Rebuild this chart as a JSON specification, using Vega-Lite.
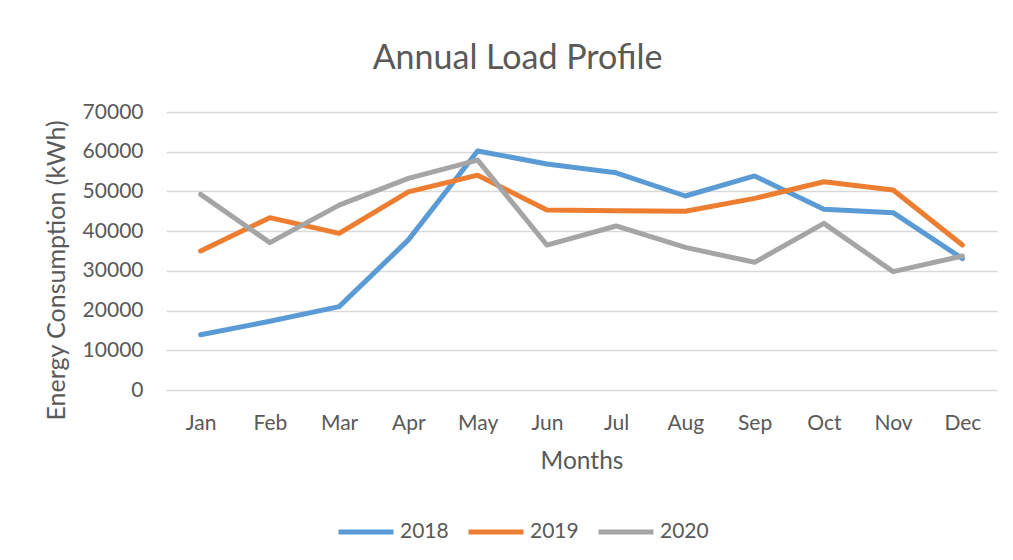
{
  "$schema": "https://vega.github.io/schema/vega-lite/v6.json",
  "width": 831,
  "height": 278,
  "autosize": "none",
  "padding": {"left": 166, "top": 112, "right": 16, "bottom": 170},
  "background": "white",
  "title": {
    "text": "Annual Load Profile",
    "font": "Lato",
    "fontSize": 34,
    "fontWeight": "normal",
    "color": "#595959",
    "anchor": "middle",
    "dx": -64,
    "offset": 25
  },
  "data": {
    "values": [
      {"month": "Jan", "year": "2018", "kwh": 13900},
      {"month": "Feb", "year": "2018", "kwh": 17300},
      {"month": "Mar", "year": "2018", "kwh": 21000},
      {"month": "Apr", "year": "2018", "kwh": 37800},
      {"month": "May", "year": "2018", "kwh": 60200},
      {"month": "Jun", "year": "2018", "kwh": 56900},
      {"month": "Jul", "year": "2018", "kwh": 54700},
      {"month": "Aug", "year": "2018", "kwh": 48850},
      {"month": "Sep", "year": "2018", "kwh": 53900},
      {"month": "Oct", "year": "2018", "kwh": 45500},
      {"month": "Nov", "year": "2018", "kwh": 44650},
      {"month": "Dec", "year": "2018", "kwh": 33100},
      {"month": "Jan", "year": "2019", "kwh": 35000},
      {"month": "Feb", "year": "2019", "kwh": 43400},
      {"month": "Mar", "year": "2019", "kwh": 39450},
      {"month": "Apr", "year": "2019", "kwh": 49900},
      {"month": "May", "year": "2019", "kwh": 54100},
      {"month": "Jun", "year": "2019", "kwh": 45300},
      {"month": "Jul", "year": "2019", "kwh": 45150},
      {"month": "Aug", "year": "2019", "kwh": 45000},
      {"month": "Sep", "year": "2019", "kwh": 48250},
      {"month": "Oct", "year": "2019", "kwh": 52450},
      {"month": "Nov", "year": "2019", "kwh": 50350},
      {"month": "Dec", "year": "2019", "kwh": 36500},
      {"month": "Jan", "year": "2020", "kwh": 49250},
      {"month": "Feb", "year": "2020", "kwh": 37100},
      {"month": "Mar", "year": "2020", "kwh": 46550},
      {"month": "Apr", "year": "2020", "kwh": 53300},
      {"month": "May", "year": "2020", "kwh": 57900},
      {"month": "Jun", "year": "2020", "kwh": 36500},
      {"month": "Jul", "year": "2020", "kwh": 41300},
      {"month": "Aug", "year": "2020", "kwh": 35900},
      {"month": "Sep", "year": "2020", "kwh": 32150},
      {"month": "Oct", "year": "2020", "kwh": 41950},
      {"month": "Nov", "year": "2020", "kwh": 29800},
      {"month": "Dec", "year": "2020", "kwh": 33750}
    ]
  },
  "mark": {"type": "line", "strokeWidth": 5, "strokeCap": "round", "strokeJoin": "round"},
  "encoding": {
    "x": {
      "field": "month",
      "type": "ordinal",
      "sort": ["Jan","Feb","Mar","Apr","May","Jun","Jul","Aug","Sep","Oct","Nov","Dec"],
      "scale": {"type": "point", "padding": 0.5},
      "axis": {
        "title": "Months",
        "labelAngle": 0,
        "domain": false,
        "ticks": false,
        "grid": false,
        "labelPadding": 22,
        "titlePadding": 16,
        "titleFontSize": 24.5
      }
    },
    "y": {
      "field": "kwh",
      "type": "quantitative",
      "scale": {"domain": [0, 70000], "nice": false},
      "axis": {
        "title": "Energy Consumption (kWh)",
        "values": [0,10000,20000,30000,40000,50000,60000,70000],
        "format": "d",
        "domain": false,
        "ticks": false,
        "grid": true,
        "gridColor": "#D9D9D9",
        "gridWidth": 1.5,
        "labelPadding": 23,
        "titlePadding": 13,
        "titleFontSize": 25,
        "titleY": 158
      }
    },
    "color": {
      "field": "year",
      "type": "nominal",
      "scale": {"domain": ["2018","2019","2020"], "range": ["#5B9BD5","#ED7D31","#A5A5A5"]},
      "legend": {
        "title": null,
        "orient": "none",
        "direction": "horizontal",
        "legendX": 170,
        "legendY": 390,
        "symbolType": "stroke",
        "symbolSize": 3025,
        "symbolStrokeWidth": 5,
        "labelOffset": 4,
        "columnPadding": 9,
        "labelFont": "Lato",
        "labelFontSize": 21,
        "labelColor": "#595959"
      }
    }
  },
  "config": {
    "view": {"stroke": null},
    "axis": {
      "labelFont": "Lato",
      "labelFontSize": 21,
      "labelColor": "#595959",
      "titleFont": "Lato",
      "titleFontSize": 23,
      "titleFontWeight": "normal",
      "titleColor": "#595959"
    }
  }
}
